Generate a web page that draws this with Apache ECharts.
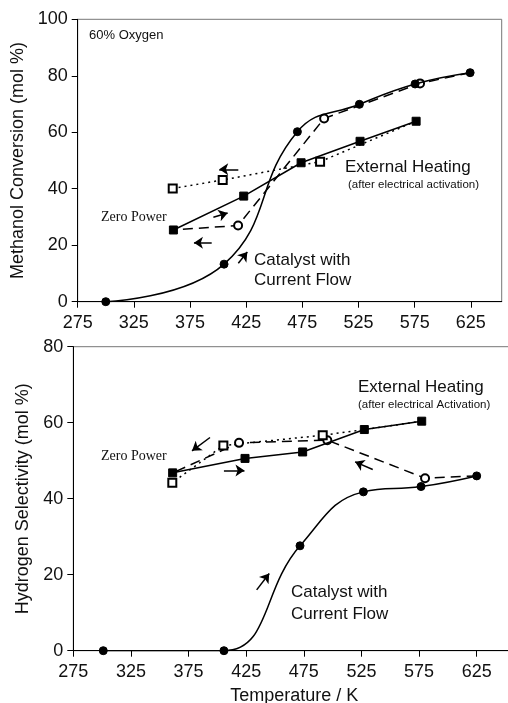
<!DOCTYPE html>
<html><head><meta charset="utf-8">
<script src="https://cdn.jsdelivr.net/npm/echarts@6/dist/echarts.min.js"></script>
<style>html,body{margin:0;padding:0;background:#fff}#c{width:508px;height:703px}</style>
</head><body><div id="c"></div>
<script>
// ---- tick labels ----
const xTicks = [275, 325, 375, 425, 475, 525, 575, 625];
// ---- Top panel: Methanol conversion (mol %) ----
const mcCatalystUp   = [[300, 0], [405.3, 13.3], [470.6, 60.2], [525.8, 69.9], [575.4, 77.1], [624.4, 81.1]];
const mcCatalystDown = [[624.4, 81.1], [579.8, 77.3], [494.4, 64.9], [417.8, 27.0], [360.2, 25.4]];
const mcExternalUp   = [[360.2, 25.4], [422.8, 37.4], [473.9, 49.2], [526.4, 56.8], [576.3, 63.9]];
const mcExternalDown = [[576.3, 63.9], [490.8, 49.6], [404.1, 43.1], [359.6, 40.1]];
const mcArrows = [[[418, 46.9], [401, 46.9]], [[395.8, 29.9], [408.5, 31.4]], [[394.3, 20.9], [378.5, 20.9]], [[418, 13.6], [426, 17.6]]];
// ---- Bottom panel: Hydrogen selectivity (mol %) ----
const hsCatalystUp   = [[301, 0], [405.7, 0], [471.7, 27.6], [526.7, 41.8], [576.7, 43.2], [625, 46.0]];
const hsCatalystDown = [[625, 46.0], [580.2, 45.4], [495.4, 55.4], [418.8, 54.7], [361.2, 46.8]];
const hsExternalUp   = [[361.2, 46.8], [424.0, 50.6], [474.0, 52.3], [527.5, 58.2], [577.3, 60.4]];
const hsExternalDown = [[577.3, 60.4], [527.5, 58.2], [491.4, 56.7], [405.2, 54.0], [360.9, 44.2]];
const hsArrows = [[[393.6, 56.1], [378, 52.6]], [[405.7, 47.4], [423.5, 47.4]], [[534.8, 47.7], [519.5, 49.7]], [[434.1, 16.0], [445, 20.3]]];

const FONT = '"Liberation Sans", Arial, sans-serif';
const chart = echarts.init(document.getElementById('c'), null, {renderer: 'canvas'});

function hideEnds(arr, idxs) {
  return arr.map((p, i) => idxs.includes(i) ? {value: p, symbol: 'none'} : p);
}
function xAxisCfg(g, max, name) {
  return {
    gridIndex: g, type: 'value', min: 275, max: max,
    axisLine: {show: true, onZero: false, lineStyle: {color: '#000', width: 1}},
    axisTick: {show: true, customValues: xTicks, length: 6, lineStyle: {color: '#000', width: 1}},
    axisLabel: {customValues: xTicks, fontSize: 18, color: '#111', fontFamily: FONT, margin: 12},
    splitLine: {show: false},
    name: name, nameLocation: 'middle', nameGap: 36,
    nameTextStyle: {fontSize: 18, color: '#111', fontFamily: FONT}
  };
}
function yAxisCfg(g, max, name, gap) {
  return {
    gridIndex: g, type: 'value', min: 0, max: max, interval: 20,
    axisLine: {show: true, lineStyle: {color: '#000', width: 1}},
    axisTick: {show: true, length: 6, lineStyle: {color: '#000'}},
    axisLabel: {fontSize: 18, color: '#111', fontFamily: FONT, margin: 10},
    splitLine: {show: false},
    name: name, nameLocation: 'middle', nameGap: gap,
    nameTextStyle: {fontSize: 18, color: '#111', fontFamily: FONT}
  };
}
function lineS(g, data, opts) {
  return Object.assign({
    type: 'line', xAxisIndex: g, yAxisIndex: g, data: data,
    symbolSize: 8, showSymbol: true, showAllSymbol: true,
    lineStyle: {color: '#000', width: 1.5},
    itemStyle: {color: '#000', borderColor: '#000', borderWidth: 1},
    silent: true
  }, opts);
}
const dashed = {color: '#000', width: 1.5, type: [10, 6]};
const dotted = {color: '#000', width: 1.5, type: [2, 4]};
const openStyle = {color: '#000', borderColor: '#000', borderWidth: 1};
function arrowS(g, arr) {
  return {
    type: 'lines', coordinateSystem: 'cartesian2d', xAxisIndex: g, yAxisIndex: g,
    data: arr.map(a => ({coords: a})), symbol: ['none', 'arrow'], symbolSize: 9,
    lineStyle: {color: '#000', width: 1.5, opacity: 1}, silent: true, z: 5
  };
}
function txt(x, y, text, size, serif) {
  return {type: 'text', x: x, y: y, silent: true,
    style: {text: text, fill: '#111', fontSize: size, fontFamily: serif ? '"Liberation Serif", "Times New Roman", serif' : FONT,
      align: 'left', verticalAlign: 'middle'}};
}

const option = {
  animation: false,
  backgroundColor: '#fff',
  grid: [
    {left: 77.7, top: 19.3, width: 424, height: 282.4, outerBoundsMode: 'none', containLabel: false, show: true, borderColor: '#777', borderWidth: 1, backgroundColor: 'transparent'},
    {left: 73.3, top: 346.7, width: 442, height: 304, outerBoundsMode: 'none', containLabel: false, show: true, borderColor: '#777', borderWidth: 1, backgroundColor: 'transparent'}
  ],
  xAxis: [xAxisCfg(0, 652.5, ''), xAxisCfg(1, 658.5, 'Temperature / K')],
  yAxis: [yAxisCfg(0, 100, 'Methanol Conversion (mol %)', 43), yAxisCfg(1, 80, 'Hydrogen Selectivity (mol %)', 38)],
  series: [
    // top
    lineS(0, hideEnds(mcCatalystDown, [0, 4]), {symbol: 'emptyCircle', lineStyle: dashed, itemStyle: openStyle, z: 2}),
    lineS(0, hideEnds(mcExternalDown, [0]), {symbol: 'emptyRect', lineStyle: dotted, itemStyle: openStyle, z: 2}),
    lineS(0, mcCatalystUp, {symbol: 'circle', smooth: 0.45, z: 3}),
    lineS(0, mcExternalUp, {symbol: 'rect', z: 3}),
    arrowS(0, mcArrows),
    // bottom
    lineS(1, hideEnds(hsCatalystDown, [0, 4]), {symbol: 'emptyCircle', lineStyle: dashed, itemStyle: openStyle, z: 2}),
    lineS(1, hideEnds(hsExternalDown, [0, 1]), {symbol: 'emptyRect', lineStyle: dotted, itemStyle: openStyle, z: 2}),
    lineS(1, hsCatalystUp, {symbol: 'circle', smooth: 0.45, z: 3}),
    lineS(1, hsExternalUp, {symbol: 'rect', z: 3}),
    arrowS(1, hsArrows)
  ],
  graphic: [
    txt(89, 35, '60% Oxygen', 13),
    txt(101, 217, 'Zero Power', 14, true),
    txt(345, 167, 'External Heating', 17),
    txt(348, 185, '(after electrical activation)', 11.5),
    txt(254, 260, 'Catalyst with', 17),
    txt(254, 280, 'Current Flow', 17),
    txt(358, 387, 'External Heating', 17),
    txt(358, 405, '(after electrical Activation)', 11.5),
    txt(101, 456, 'Zero Power', 14, true),
    txt(291, 592, 'Catalyst with', 17),
    txt(291, 614, 'Current Flow', 17)
  ]
};
chart.setOption(option);
</script>
</body></html>
